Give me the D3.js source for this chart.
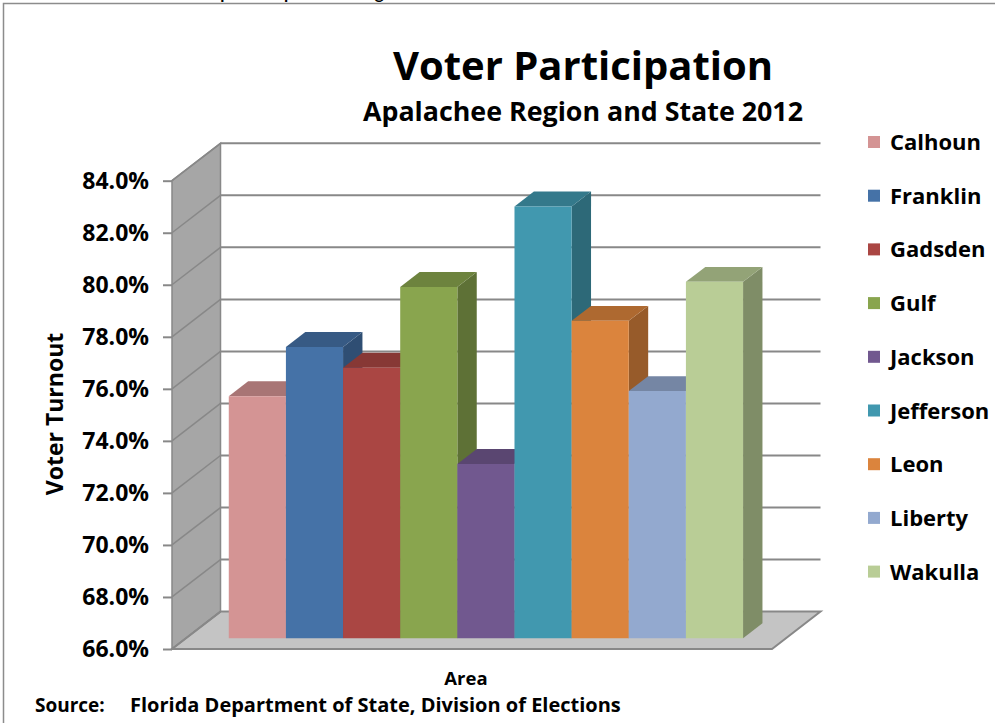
<!DOCTYPE html>
<html>
<head>
<meta charset="utf-8">
<script src="https://cdn.jsdelivr.net/npm/d3@7"></script>
<style>
  html, body { margin: 0; padding: 0; background: #fff; }
  svg { display: block; font-family: "Open Sans", Lato, sans-serif; font-weight: bold; }
</style>
</head>
<body>
<svg id="chart" width="995" height="723"></svg>
<script>
// Voter turnout by county, 2012
const counties = ["Calhoun", "Franklin", "Gadsden", "Gulf", "Jackson", "Jefferson", "Leon", "Liberty", "Wakulla"];
const turnout  = [75.3, 77.2, 76.4, 79.5, 72.7, 82.6, 78.2, 75.5, 79.7];
const colors   = ["#D49494", "#4572A7", "#AA4643", "#89A54E", "#71588F", "#4198AF", "#DB843D", "#93A9CF", "#B9CD96"];
const yTicks   = [66, 68, 70, 72, 74, 76, 78, 80, 82, 84];

const svg = d3.select("#chart");

// oblique 3D projection: front plane plus a depth offset
const DX = 48.5, DY = -37.4;
const y = d3.scaleLinear().domain([66, 84]).range([649, 180.7]);
const x = d3.scaleBand().domain(counties).range([172, 772]).paddingInner(0).paddingOuter(0.75);
const P = (px, v, z) => [px + DX * z, y(v) + DY * z];
const poly = pts => "M" + pts.map(p => p.join(",")).join("L") + "Z";

const x0 = 172, x1 = 772;
const vMin = 66, vMax = 84;
const gridColor = "#888888";

// outer frame
svg.append("rect").attr("x", 3.5).attr("y", 3.5).attr("width", 1000).attr("height", 730)
  .attr("fill", "none").attr("stroke", "#8c8c8c").attr("stroke-width", 1.5);

// page heading running off the top edge
svg.append("text").attr("x", 126).attr("y", -1).attr("font-size", 17)
  .attr("font-family", "Lato, sans-serif")
  .text("Voter Participation Apalachee Region");

// left wall
svg.append("path")
  .attr("d", poly([P(x0, vMin, 0), P(x0, vMax, 0), P(x0, vMax, 1), P(x0, vMin, 1)]))
  .attr("fill", "#a6a6a6").attr("stroke", gridColor).attr("stroke-width", 1.5);

// floor
svg.append("path")
  .attr("d", poly([P(x0, vMin, 0), P(x1, vMin, 0), P(x1, vMin, 1), P(x0, vMin, 1)]))
  .attr("fill", "#c4c4c4").attr("stroke", gridColor).attr("stroke-width", 2);

// gridlines on the back wall and the left wall
const grid = svg.append("g").attr("stroke", gridColor).attr("stroke-width", 2).attr("fill", "none");
yTicks.forEach(v => {
  if (v > vMin) {
    grid.append("path").attr("d", "M" + P(x0, v, 1) + "L" + P(x1, v, 1));
  }
  grid.append("path").attr("d", "M" + P(x0, v, 0) + "L" + P(x0, v, 1)).attr("stroke-width", 1.5);
});

// value axis on the front edge of the wall
const axis = d3.axisLeft(y).tickValues(yTicks).tickSize(9).tickPadding(14)
  .tickFormat(v => d3.format(".1%")(v / 100));
const ag = svg.append("g").attr("transform", `translate(${x0},0)`).call(axis);
ag.select(".domain").remove();
ag.selectAll(".tick line").attr("stroke", gridColor).attr("stroke-width", 2);
ag.selectAll(".tick text").attr("font-size", 23).attr("fill", "#000")
  .attr("font-family", "'Open Sans', sans-serif").attr("font-weight", "bold");

// bars
const zf = 0.287, zb = zf + 0.4;
const bars = svg.append("g");
counties.forEach((c, i) => {
  const l = x(c), r = x(c) + x.bandwidth(), v = turnout[i];
  const base = d3.color(colors[i]);
  const g = bars.append("g");
  // side
  g.append("path").attr("d", poly([P(r, vMin, zf), P(r, v, zf), P(r, v, zb), P(r, vMin, zb)]))
    .attr("fill", base.darker(1.05));
  // top
  g.append("path").attr("d", poly([P(l, v, zf), P(r, v, zf), P(r, v, zb), P(l, v, zb)]))
    .attr("fill", base.darker(0.65));
  // front
  g.append("path").attr("d", poly([P(l, vMin, zf), P(r, vMin, zf), P(r, v, zf), P(l, v, zf)]))
    .attr("fill", base);
});

// titles
svg.append("text").attr("x", 583).attr("y", 80).attr("text-anchor", "middle")
  .attr("font-size", 40).text("Voter Participation");
svg.append("text").attr("x", 583).attr("y", 121).attr("text-anchor", "middle")
  .attr("font-size", 26.8).text("Apalachee Region and State 2012");

// axis titles
svg.append("text").attr("transform", "translate(63,414) rotate(-90)").attr("text-anchor", "middle")
  .attr("font-size", 23).text("Voter Turnout");
svg.append("text").attr("x", 466).attr("y", 685).attr("text-anchor", "middle")
  .attr("font-size", 18.5).text("Area");

// source note
svg.append("text").attr("x", 35).attr("y", 712).attr("font-size", 19).text("Source:");
svg.append("text").attr("x", 130).attr("y", 712).attr("font-size", 20)
  .text("Florida Department of State, Division of Elections");

// legend
const legend = svg.append("g");
counties.forEach((c, i) => {
  const ly = 142 + i * 53.7;
  legend.append("rect").attr("x", 868).attr("y", ly - 6).attr("width", 12).attr("height", 12).attr("fill", colors[i]);
  legend.append("text").attr("x", 890).attr("y", ly + 8).attr("font-size", 22).text(c);
});
</script>
</body>
</html>
